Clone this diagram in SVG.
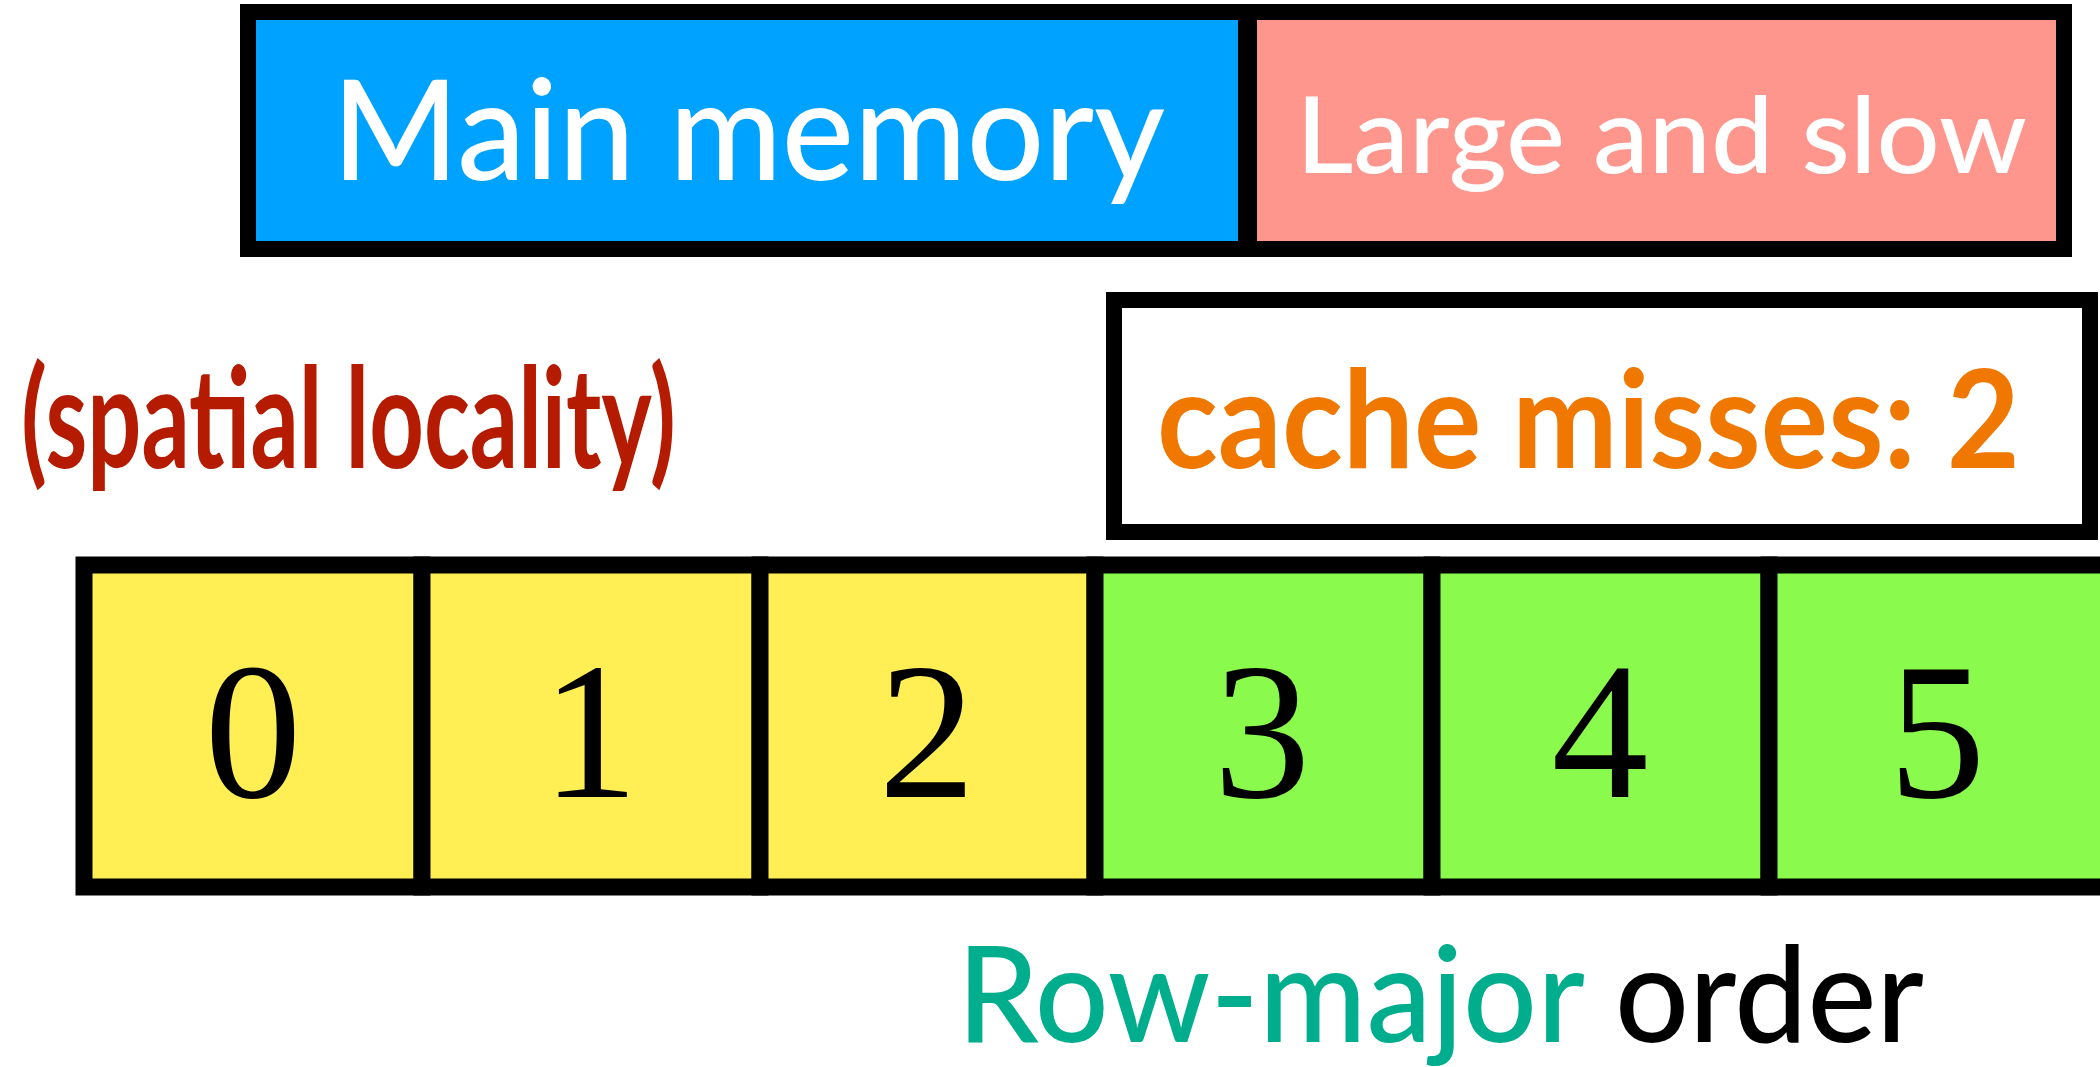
<svg xmlns="http://www.w3.org/2000/svg" width="2100" height="1067" viewBox="0 0 2100 1067">
  <style>
    .box { stroke: #000; stroke-width: 16; }
    .cell { stroke: #000; stroke-width: 17; }
    .sans { font-family: Lato, "Open Sans", "DejaVu Sans", sans-serif; }
    .num { font-family: "Liberation Serif"; font-size: 194px; fill: #000; text-anchor: middle; }
    .yellow { fill: #FFEF55; }
    .green { fill: #8AFB4C; }
  </style>

  <rect width="2100" height="1067" fill="#fff"/>

  <!-- Main memory bar -->
  <g id="main-memory">
    <rect x="248" y="12" width="999" height="237" fill="#00A2FF" class="box"/>
    <text class="sans" x="332" y="180" font-size="140" font-weight="500" fill="#fff" textLength="833" lengthAdjust="spacingAndGlyphs">Main memory</text>
  </g>
  <g id="large-and-slow">
    <rect x="1247" y="12" width="817" height="237" fill="#FF968D" class="box"/>
    <line x1="1247.5" y1="4" x2="1247.5" y2="257" stroke="#000" stroke-width="19"/>
    <text class="sans" x="1296" y="173" font-size="106" font-weight="500" fill="#fff" textLength="731" lengthAdjust="spacingAndGlyphs">Large and slow</text>
  </g>

  <!-- Cache miss counter -->
  <g id="cache-misses">
    <rect x="1114" y="300" width="976" height="232" fill="#fff" class="box"/>
    <text class="sans" x="1157" y="468" font-size="136" font-weight="bold" fill="#F07800" textLength="863" lengthAdjust="spacingAndGlyphs">cache misses: 2</text>
  </g>

  <!-- Caption -->
  <g id="spatial-locality">
    <text class="sans" x="21" y="468" font-size="140" font-weight="bold" fill="#B41B00" textLength="655" lengthAdjust="spacingAndGlyphs">(spatial locality)</text>
  </g>

  <!-- Array cells -->
  <g id="cell-0">
    <rect x="84" y="565" width="338" height="322" class="cell yellow"/>
    <text class="num" x="253" y="797">0</text>
  </g>
  <g id="cell-1">
    <rect x="422" y="565" width="338" height="322" class="cell yellow"/>
    <text class="num" x="590" y="797">1</text>
  </g>
  <g id="cell-2">
    <rect x="760" y="565" width="335" height="322" class="cell yellow"/>
    <text class="num" x="927" y="797">2</text>
  </g>
  <g id="cell-3">
    <rect x="1095" y="565" width="337" height="322" class="cell green"/>
    <text class="num" x="1262" y="797">3</text>
  </g>
  <g id="cell-4">
    <rect x="1432" y="565" width="337" height="322" class="cell green"/>
    <text class="num" x="1600" y="797">4</text>
  </g>
  <g id="cell-5">
    <rect x="1769" y="565" width="340" height="322" class="cell green"/>
    <text class="num" x="1937" y="797">5</text>
  </g>

  <g id="connectors"></g>

  <!-- Ordering label -->
  <g id="row-major-order">
    <text class="sans" x="957" y="1042" font-size="134" font-weight="500" textLength="967" lengthAdjust="spacingAndGlyphs"><tspan fill="#00AD8C">Row-major </tspan><tspan fill="#000">order</tspan></text>
  </g>
</svg>
